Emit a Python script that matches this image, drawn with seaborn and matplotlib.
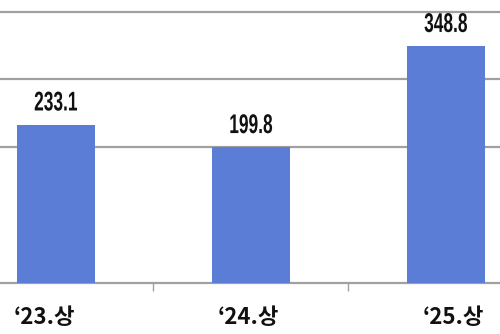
import matplotlib
matplotlib.use("Agg")
import matplotlib.pyplot as plt
import seaborn as sns
import pandas as pd
from matplotlib.ticker import FixedLocator
from matplotlib.patheffects import AbstractPathEffect
from matplotlib.transforms import Affine2D, ScaledTranslation

categories = ["\u201823.상", "\u201824.상", "\u201825.상"]
values = [233.1, 199.8, 348.8]
value_labels = ["233.1", "199.8", "348.8"]
grid_values = [200, 300, 400]
label_shift_px = [-12, -3, 7]


class Condense(AbstractPathEffect):
    """Narrow the glyph outlines horizontally about their centre."""
    def __init__(self, sx):
        super().__init__()
        self.sx = sx

    def draw_path(self, renderer, gc, tpath, affine, rgbFace=None):
        ext = tpath.get_extents()
        cx = (ext.x0 + ext.x1) / 2
        tr = Affine2D().translate(-cx, 0).scale(self.sx, 1).translate(cx, 0) + affine
        renderer.draw_path(gc, tpath, tr, rgbFace)


sns.set_theme(style="white")
plt.rcParams['font.family'] = ['Noto Sans CJK KR', 'DejaVu Sans']

df = pd.DataFrame({"cat": categories, "val": values})

fig = plt.figure(figsize=(5.0, 3.34), dpi=100)
ax = fig.add_axes([0.0, 51 / 334, 1.0, 1 - 51 / 334])

sns.barplot(data=df, x="cat", y="val", color="#5B7DD5", width=0.4,
            saturation=1, ax=ax, zorder=3)
for p in ax.patches:
    p.set_edgecolor("none")

for g in grid_values:
    ax.axhline(g, color="#A0A0A0", lw=1.6, zorder=1)

ax.set_ylim(0, 417)
ax.set_xlim(-0.287, 2.277)
ax.set_yticks([])
ax.set_xlabel("")
ax.set_ylabel("")

for s in ["left", "right", "top"]:
    ax.spines[s].set_visible(False)
ax.spines["bottom"].set_color("#A0A0A0")
ax.spines["bottom"].set_linewidth(1.6)

ax.xaxis.set_minor_locator(FixedLocator([0.5, 1.5]))
ax.tick_params(axis="x", which="major", length=0, labelbottom=False)
ax.tick_params(axis="x", which="minor", length=6, width=1,
               color="#A0A0A0", direction="out", bottom=True)

xform = ax.get_xaxis_transform()
for i, (cat, dx) in enumerate(zip(categories, label_shift_px)):
    off = ScaledTranslation(dx / 100, -35 / 100, fig.dpi_scale_trans)
    ax.text(i, 0, cat, transform=xform + off, ha="center", va="center",
            fontsize=16, fontweight="bold", color="#111111")

ax.bar_label(ax.containers[0], labels=value_labels, padding=6,
             fontsize=19.5, fontweight="bold", color="#111111",
             family=["Liberation Sans", "DejaVu Sans"],
             path_effects=[Condense(0.64)])

fig.savefig("out.png", dpi=100)
